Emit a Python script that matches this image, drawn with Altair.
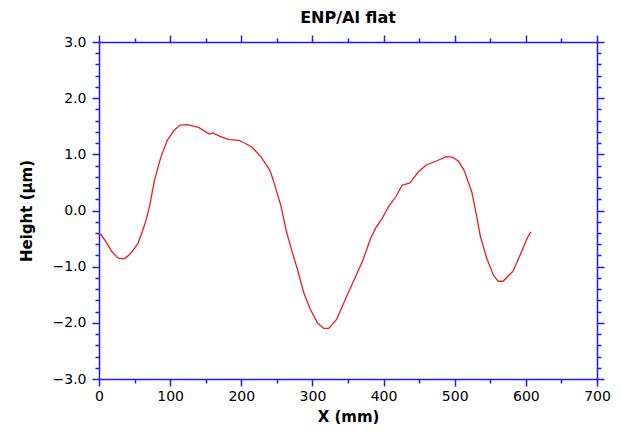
import altair as alt
import pandas as pd

x_mm = [0, 4, 11, 18, 27, 36, 45, 55, 61, 66, 71, 78, 87, 96, 105, 114, 124, 140,
        155, 160, 170, 183, 197, 215, 228, 240, 245, 256, 263, 272, 279, 288, 297,
        307, 316, 323, 334, 348, 362, 371, 382, 389, 398, 407, 417, 426, 437, 449,
        460, 476, 488, 497, 505, 513, 524, 531, 536, 545, 554, 561, 568, 582, 593,
        602, 607]
height_um = [-0.40, -0.45, -0.58, -0.73, -0.85, -0.86, -0.76, -0.58, -0.37, -0.18,
             0.07, 0.54, 0.95, 1.25, 1.42, 1.52, 1.53, 1.48, 1.36, 1.38, 1.32, 1.26,
             1.25, 1.13, 0.95, 0.72, 0.54, 0.07, -0.35, -0.76, -1.05, -1.47, -1.76,
             -2.00, -2.10, -2.10, -1.94, -1.53, -1.14, -0.88, -0.49, -0.31, -0.14,
             0.07, 0.24, 0.45, 0.49, 0.69, 0.81, 0.89, 0.96, 0.95, 0.88, 0.72, 0.33,
             -0.11, -0.46, -0.85, -1.14, -1.26, -1.26, -1.08, -0.76, -0.49, -0.38]

x_ticks = list(range(0, 701, 50))
y_ticks = [round(-3 + 0.2 * i, 1) for i in range(31)]

df = pd.DataFrame({"x": x_mm, "h": height_um})

BLUE = "#1a1aff"
FONT = "DejaVu Sans"

x_major = {"condition": {"test": "datum.value % 100 === 0", "value": 7}, "value": 4}
y_major = {"condition": {"test": "abs(datum.value - round(datum.value)) < 0.001", "value": 7}, "value": 4}

common = dict(domainColor=BLUE, tickColor=BLUE, domainWidth=1.5, tickWidth=1.5,
              grid=False, labelColor="black", labelFont=FONT, labelFontSize=14,
              titleFont=FONT, titleFontSize=15, titleFontWeight="bold",
              titleColor="black", labelFlush=False, labelOverlap=False)

xs = alt.Scale(domain=[0, 700], nice=False, zero=False)
ys = alt.Scale(domain=[-3, 3], nice=False, zero=False)

line = alt.Chart(df).mark_line(color="#ee1c1c", strokeWidth=1.3).encode(
    x=alt.X("x:Q", scale=xs, axis=alt.Axis(
        orient="bottom", values=x_ticks, format="d", tickSize=x_major,
        labelExpr="datum.value % 100 === 0 ? datum.label : ''", labelPadding=3,
        title="X (mm)", titlePadding=6, **common)),
    y=alt.Y("h:Q", scale=ys, axis=alt.Axis(
        orient="left", values=y_ticks, format=".1f", tickSize=y_major,
        labelExpr="abs(datum.value - round(datum.value)) < 0.001 ? datum.label : ''",
        labelPadding=6, title="Height (µm)", titlePadding=18, **common)),
)

mirror = alt.Chart(df).mark_line(opacity=0).encode(
    x=alt.X("x:Q", scale=xs, axis=alt.Axis(
        orient="top", values=x_ticks, tickSize=x_major, labels=False, title=None,
        **common)),
    y=alt.Y("h:Q", scale=ys, axis=alt.Axis(
        orient="right", values=y_ticks, tickSize=y_major, labels=False, title=None,
        **common)),
)

chart = alt.layer(line, mirror).resolve_axis(x="independent", y="independent").properties(
    width=605, height=416,
    autosize=alt.AutoSizeParams(type="fit", contains="padding"),
    title=alt.TitleParams("ENP/Al flat", font=FONT, fontSize=16, fontWeight="bold",
                          color="black", offset=8),
    padding={"left": 11, "top": 2, "right": 2, "bottom": 0},
).configure_view(strokeWidth=0)

chart.save("out.html", embed_options={"renderer": "svg", "actions": False})
